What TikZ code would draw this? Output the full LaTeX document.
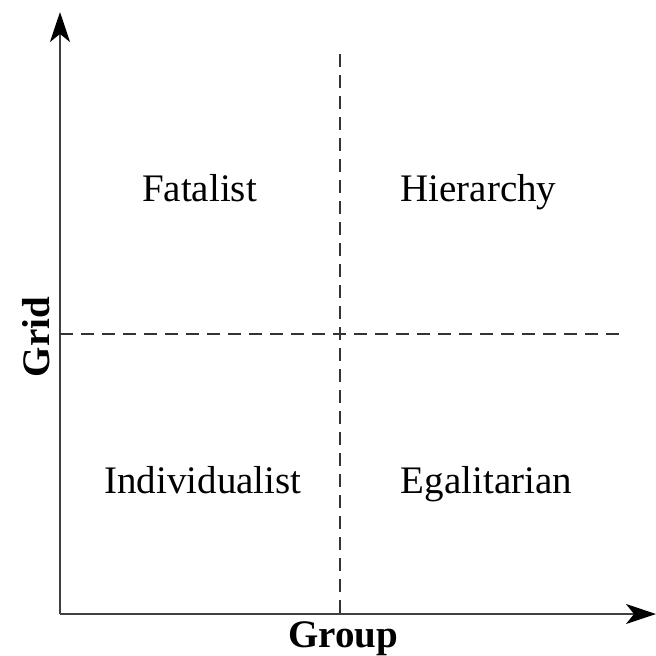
\documentclass[tikz,border=0pt]{standalone}
\usepackage{fontspec}
\setmainfont{Liberation Serif}
\usetikzlibrary{arrows.meta}

\begin{document}
\begin{tikzpicture}[
    x=0.5pt, y=-0.5pt,
    axis/.style={-{Stealth[length=15pt,width=10pt,inset=4pt,black]},line width=1pt,black!75},
    divider/.style={dashed,dash pattern=on 6.5pt off 4pt,line width=0.7pt,black!80},
    quad/.style={anchor=base,font=\fontsize{19.5}{23}\selectfont},
    axlab/.style={anchor=base,font=\fontsize{19.5}{23}\selectfont\bfseries}
]
\useasboundingbox (0,0) rectangle (656,655);

% axes
\coordinate (O) at (60,614);
\coordinate (ytip) at (60,12);
\coordinate (xtip) at (656,614);
\draw[axis] (O) -- (ytip);
\draw[axis] (O) -- (xtip);

% dividers
\coordinate (vtop) at (340,54);
\coordinate (vbot) at (340,614);
\coordinate (hleft) at (60,334);
\coordinate (hright) at (625,334);
\draw[divider] (vtop) -- (vbot);
\draw[divider] (hleft) -- (hright);

% quadrants
\node[quad] (fat) at (199.5,201) {Fatalist};
\node[quad] (hier) at (478.5,201) {Hierarchy};
\node[quad] (ind) at (203,493) {Individualist};
\node[quad] (egal) at (486.5,493) {Egalitarian};

% axis labels
\node[axlab] (group) at (343,647) {Group};
\node[axlab,rotate=90] (grid) at (49,337) {Grid};
\end{tikzpicture}
\end{document}
